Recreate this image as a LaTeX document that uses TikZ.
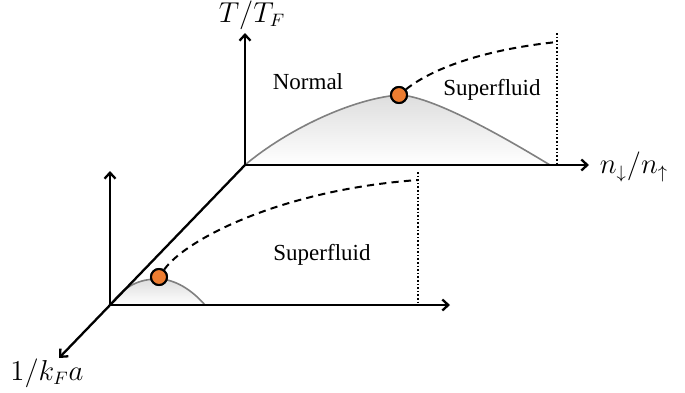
\documentclass[tikz,border=0pt]{standalone}
\usepackage{fontspec}
\setmainfont{Liberation Serif}
\usepackage{amsmath}
\usetikzlibrary{arrows.meta}
\definecolor{critorange}{RGB}{237,125,49}

\begin{document}
\begin{tikzpicture}[
  x=0.5pt, y=-0.5pt,
  >={Straight Barb[length=3pt,width=5.5pt]},
  axis/.style={->, line width=1.15pt},
  dome/.style={draw=gray, line width=0.8pt, top color=gray!26, bottom color=white},
  crit/.style={circle, draw=black, line width=1pt, fill=critorange, inner sep=0pt, minimum size=8pt},
  lbl/.style={font=\fontsize{11.5}{13}\selectfont},
  mlbl/.style={font=\fontsize{13.5}{16}\selectfont},
  crossover/.style={line width=1pt, dash pattern=on 3.6pt off 2.6pt},
  border/.style={line width=1pt, dash pattern=on 0.8pt off 1pt},
]
\useasboundingbox (0,0) rectangle (685,392);

% Origins and axis ends
\coordinate (ob) at (245,165);
\coordinate (of) at (110,305);
\coordinate (tb) at (245,33);
\coordinate (tf) at (110,171);
\coordinate (nb) at (589,165);
\coordinate (nf) at (450,305);
\coordinate (kd) at (59,358);

% Domes (phase-separated region)
\path[dome] (ob) .. controls (280,135) and (345,100) .. (398,95)
  .. controls (435,95) and (525,150) .. (550,165) -- cycle;
\path[dome] (of) .. controls (125,285) and (140,279) .. (158,279)
  .. controls (175,279) and (192,290) .. (205,305) -- cycle;

% Critical points
\node[crit] (cb) at (399,95) {};
\node[crit] (cf) at (159,277) {};

% Crossover lines and borders
\coordinate (eb) at (557,42);
\coordinate (ef) at (418,180);
\coordinate (db) at (557,33);
\coordinate (dbb) at (557,165);
\coordinate (df) at (418,172);
\coordinate (dfb) at (418,305);
\draw[crossover] (cb) .. controls (430,70) and (480,50) .. (eb);
\draw[crossover] (cf) .. controls (185,240) and (280,190) .. (ef);
\draw[border] (db) -- (dbb);
\draw[border] (df) -- (dfb);

% Axes
\draw[axis] (ob) -- (tb);
\draw[axis] (ob) -- (nb);
\draw[axis] (of) -- (tf);
\draw[axis] (of) -- (nf);
\draw[axis] (ob) -- (kd);

% Redraw critical points on top
\node[crit] at (cb) {};
\node[crit] at (cf) {};

% Labels
\node[mlbl] (tlab) at (252,15) {$T/T_F$};
\node[mlbl] (nlab) at (634,167) {$n_\downarrow/n_\uparrow$};
\node[mlbl] (klab) at (47,373) {$1/k_Fa$};
\node[lbl] (normal) at (308,82) {Normal};
\node[lbl] (sfback) at (492,90) {Superfluid};
\node[lbl] (sffront) at (322,255) {Superfluid};

\end{tikzpicture}
\end{document}
